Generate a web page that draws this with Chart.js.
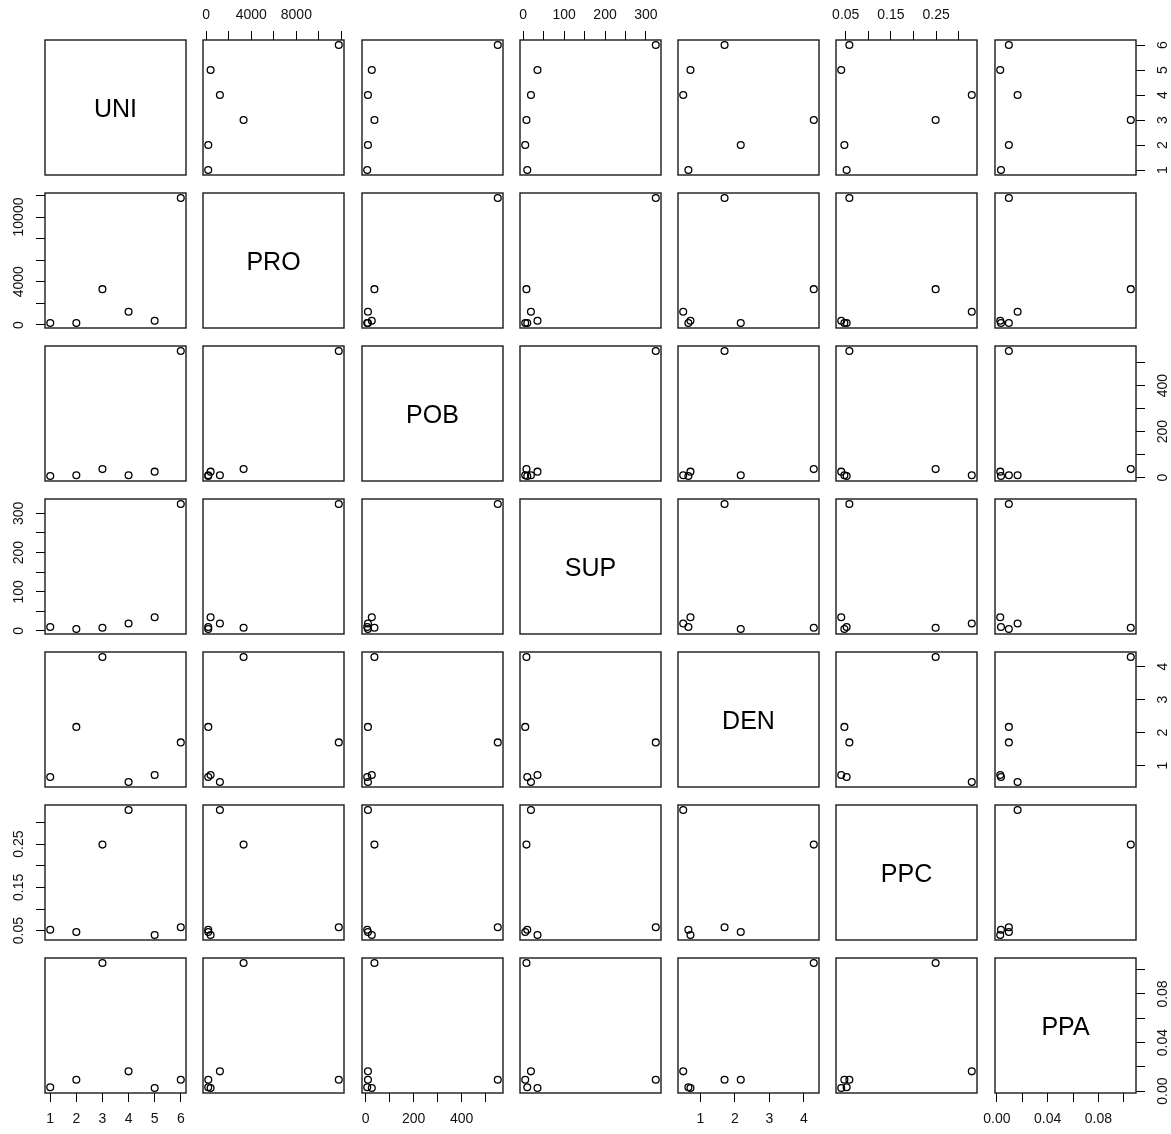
<!DOCTYPE html>
<html>
<head>
<meta charset="utf-8">
<script src="https://cdn.jsdelivr.net/npm/chart.js@4.4.1/dist/chart.umd.min.js"></script>
<style>
html,body{margin:0;padding:0;background:#fff;}
#wrap{position:relative;width:1171px;height:1134px;overflow:hidden;background:#fff;}
.cell{position:absolute;}
</style>
</head>
<body>
<div id="wrap"></div>
<script>
// ---------------- data ----------------
const VAR_NAMES = ['UNI', 'PRO', 'POB', 'SUP', 'DEN', 'PPC', 'PPA'];

const UNI = [1, 2, 3, 4, 5, 6];
const PRO = [185, 190, 3320, 1220, 395, 11760];
const POB = [7, 10, 37, 10, 26, 550];
const SUP = [10, 5, 8, 19, 35, 324];
const DEN = [0.65, 2.17, 4.29, 0.50, 0.71, 1.70];
const PPC = [0.052, 0.047, 0.249, 0.329, 0.040, 0.058];
const PPA = [0.0032, 0.0094, 0.1055, 0.0163, 0.0026, 0.0094];

// tick values and tick labels ('' = tick without label)
const UNI_TICKS = [1, 2, 3, 4, 5, 6];
const UNI_LABELS_X = ['1', '2', '3', '4', '5', '6'];
const UNI_LABELS_Y = ['1', '2', '3', '4', '5', '6'];

const PRO_TICKS = [0, 2000, 4000, 6000, 8000, 10000, 12000];
const PRO_LABELS_X = ['0', '', '4000', '', '8000', '', ''];
const PRO_LABELS_Y = ['0', '', '4000', '', '', '10000', ''];

const POB_TICKS = [0, 100, 200, 300, 400, 500];
const POB_LABELS_X = ['0', '', '200', '', '400', ''];
const POB_LABELS_Y = ['0', '', '200', '', '400', ''];

const SUP_TICKS = [0, 50, 100, 150, 200, 250, 300];
const SUP_LABELS_X = ['0', '', '100', '', '200', '', '300'];
const SUP_LABELS_Y = ['0', '', '100', '', '200', '', '300'];

const DEN_TICKS = [1, 2, 3, 4];
const DEN_LABELS_X = ['1', '2', '3', '4'];
const DEN_LABELS_Y = ['1', '2', '3', '4'];

const PPC_TICKS = [0.05, 0.10, 0.15, 0.20, 0.25, 0.30];
const PPC_LABELS_X = ['0.05', '', '0.15', '', '0.25', ''];
const PPC_LABELS_Y = ['0.05', '', '0.15', '', '0.25', ''];

const PPA_TICKS = [0.00, 0.02, 0.04, 0.06, 0.08, 0.10];
const PPA_LABELS_X = ['0.00', '', '0.04', '', '0.08', ''];
const PPA_LABELS_Y = ['0.00', '', '0.04', '', '0.08', ''];

// ---------------- assembly ----------------
const VALUES = [UNI, PRO, POB, SUP, DEN, PPC, PPA];
const TICKS = [UNI_TICKS, PRO_TICKS, POB_TICKS, SUP_TICKS, DEN_TICKS, PPC_TICKS, PPA_TICKS];
const LABELS_X = [UNI_LABELS_X, PRO_LABELS_X, POB_LABELS_X, SUP_LABELS_X, DEN_LABELS_X, PPC_LABELS_X, PPA_LABELS_X];
const LABELS_Y = [UNI_LABELS_Y, PRO_LABELS_Y, POB_LABELS_Y, SUP_LABELS_Y, DEN_LABELS_Y, PPC_LABELS_Y, PPA_LABELS_Y];

const FONT = "'Liberation Sans', Arial, Helvetica, sans-serif";
const TICK_SIZE = 14;
const DIAG_SIZE = 25;
const N = VAR_NAMES.length;
const M = 44;                 // margin around each panel inside its canvas
const PX0 = 45, PY0 = 40;     // first panel
const PITCH_X = 158.25, PITCH_Y = 153;
const PW = 141, PH = 135;
const TICK_LEN = 9;

const vars = VAR_NAMES.map((name, i) => ({
  name, values: VALUES[i], ticks: TICKS[i], xLabels: LABELS_X[i], yLabels: LABELS_Y[i]
}));

function rangeOf(v) {
  const mn = Math.min(...v), mx = Math.max(...v), r = mx - mn;
  return [mn - 0.04 * r, mx + 0.04 * r];
}

const mctx = document.createElement('canvas').getContext('2d');
mctx.font = TICK_SIZE + 'px ' + FONT;
function widest(labels) {
  return Math.max(0, ...labels.map(s => mctx.measureText(s).width));
}

const framePlugin = {
  id: 'frame',
  afterDraw(chart) {
    const a = chart.chartArea, ctx = chart.ctx;
    ctx.save();
    ctx.strokeStyle = '#1a1a1a';
    ctx.lineWidth = 1.4;
    ctx.strokeRect(a.left, a.top, a.right - a.left, a.bottom - a.top);
    const txt = chart.options.plugins.diag && chart.options.plugins.diag.text;
    if (txt) {
      ctx.fillStyle = '#000';
      ctx.font = DIAG_SIZE + 'px ' + FONT;
      ctx.textAlign = 'center';
      ctx.textBaseline = 'alphabetic';
      ctx.fillText(txt, (a.left + a.right) / 2, (a.top + a.bottom) / 2 + 0.36 * DIAG_SIZE);
    }
    ctx.restore();
  }
};

const wrap = document.getElementById('wrap');

for (let r = 0; r < N; r++) {
  for (let c = 0; c < N; c++) {
    const xv = vars[c], yv = vars[r];
    const left = Math.round(PX0 + c * PITCH_X);
    const top = Math.round(PY0 + r * PITCH_Y);
    const showTop = r === 0 && c % 2 === 1;
    const showBottom = r === N - 1 && c % 2 === 0;
    const showLeft = c === 0 && r % 2 === 1;
    const showRight = c === N - 1 && r % 2 === 0;
    const showX = showTop || showBottom;
    const showY = showLeft || showRight;
    const diag = r === c;

    const div = document.createElement('div');
    div.className = 'cell';
    div.style.left = (left - M) + 'px';
    div.style.top = (top - M) + 'px';
    div.style.width = (PW + 2 * M) + 'px';
    div.style.height = (PH + 2 * M) + 'px';
    const cv = document.createElement('canvas');
    cv.width = PW + 2 * M;
    cv.height = PH + 2 * M;
    cv.style.width = cv.width + 'px';
    cv.style.height = cv.height + 'px';
    div.appendChild(cv);
    wrap.appendChild(div);

    const [xmin, xmax] = rangeOf(xv.values);
    const [ymin, ymax] = rangeOf(yv.values);

    const datasets = diag ? [] : [{
      data: xv.values.map((x, k) => ({ x: x, y: yv.values[k] })),
      pointStyle: 'circle',
      pointRadius: 3.4,
      pointBorderWidth: 1.3,
      borderColor: '#000',
      backgroundColor: 'rgba(0,0,0,0)',
      pointBackgroundColor: 'rgba(0,0,0,0)',
      pointBorderColor: '#000',
      showLine: false,
      clip: false
    }];

    const gridOpts = {
      display: true, drawOnChartArea: false, drawTicks: true,
      tickLength: TICK_LEN, color: '#000', lineWidth: 1
    };
    const yPad = (showLeft ? 26 : 26.7) - TICK_LEN - widest(yv.yLabels) / 2;

    new Chart(cv, {
      type: 'scatter',
      data: { datasets },
      options: {
        responsive: false,
        animation: false,
        devicePixelRatio: 1,
        events: [],
        layout: {
          padding: {
            left: showLeft ? 0 : M, right: showRight ? 0 : M,
            top: showTop ? 0 : M, bottom: showBottom ? 0 : M
          }
        },
        plugins: {
          legend: { display: false },
          tooltip: { enabled: false },
          title: { display: false },
          diag: { text: diag ? xv.name : '' }
        },
        scales: {
          x: {
            type: 'linear',
            position: showTop ? 'top' : 'bottom',
            display: showX,
            bounds: 'data',
            min: xmin, max: xmax,
            afterBuildTicks: s => { s.ticks = xv.ticks.map(v => ({ value: v })); },
            afterFit: s => { if (showX) s.height = M; },
            grid: gridOpts,
            border: { display: false },
            ticks: {
              autoSkip: false, minRotation: 0, maxRotation: 0,
              padding: showTop ? 7 : 9,
              color: '#111',
              font: { family: FONT, size: TICK_SIZE },
              callback: (v, i) => (xv.xLabels[i] !== undefined ? xv.xLabels[i] : '')
            }
          },
          y: {
            type: 'linear',
            position: showLeft ? 'left' : 'right',
            display: showY,
            bounds: 'data',
            min: ymin, max: ymax,
            afterBuildTicks: s => { s.ticks = yv.ticks.map(v => ({ value: v })); },
            afterFit: s => { if (showY) s.width = M; },
            grid: gridOpts,
            border: { display: false },
            ticks: {
              autoSkip: false, minRotation: 90, maxRotation: 90,
              crossAlign: 'center',
              padding: yPad,
              color: '#111',
              font: { family: FONT, size: TICK_SIZE },
              callback: (v, i) => (yv.yLabels[i] !== undefined ? yv.yLabels[i] : '')
            }
          }
        }
      },
      plugins: [framePlugin]
    });
  }
}
</script>
</body>
</html>
